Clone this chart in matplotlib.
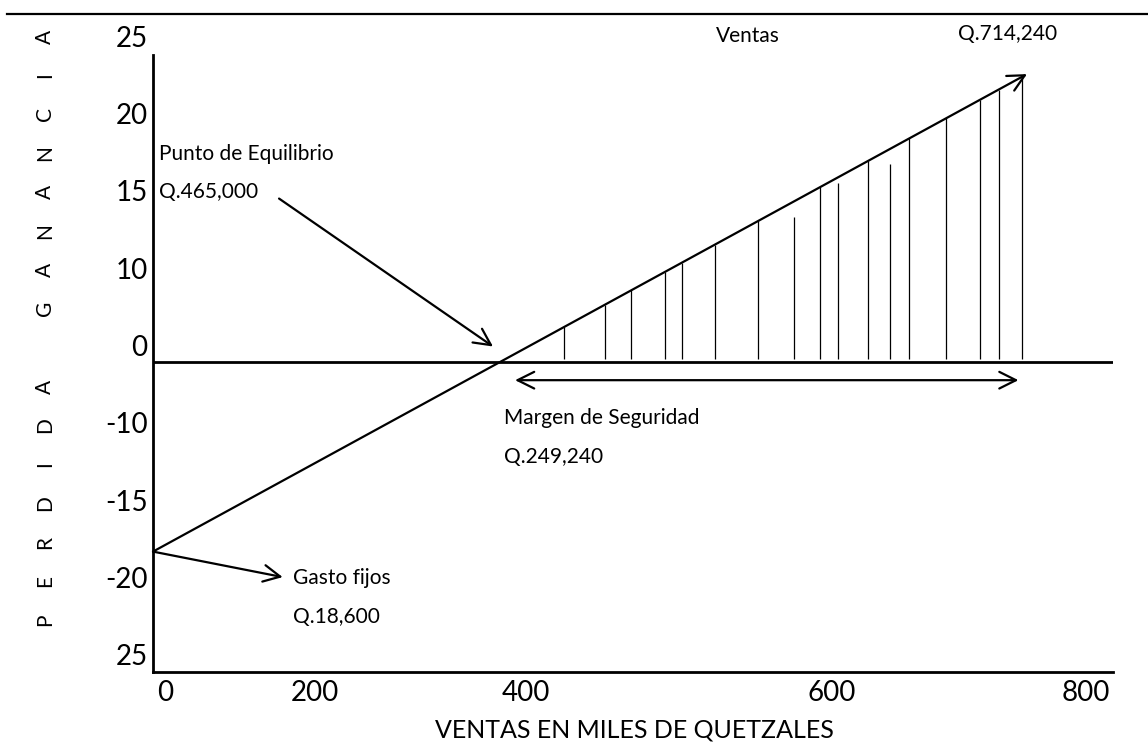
import numpy as np
import matplotlib
matplotlib.use('Agg')
import matplotlib.pyplot as plt
from matplotlib.lines import Line2D

plt.rcParams['font.family'] = ['Lato', 'DejaVu Sans']

# valores (miles de quetzales)
gasto_fijo = 18.6
ventas = 714.24
alto_ventas = 28.2          # altura de la recta en el punto de ventas
x_ticks = [0, 200, 400, 600, 800]
y_ticks = ['25', '20', '15', '10', '0', '-10', '-15', '-20', '25']
rayas_x = [336, 369, 391, 418, 432, 459, 494, 524, 545, 560, 584, 602, 618, 648, 676, 691, 710]
rayas_alto = [1, 1, 1, 1, 1, 1, 1, 0.9, 1, 0.97, 1, 0.93, 1, 1, 1, 1, 1]
letras_eje_y = 'PERDIDA GANANCIA'

# posiciones de las etiquetas (el dibujo original no esta a escala)
xtick_pos = [10, 132, 305, 555, 762]
ytick_pos = np.linspace(31.9, -28.7, len(y_ticks))

pendiente = (alto_ventas + gasto_fijo) / ventas
equilibrio = gasto_fijo / pendiente

fig = plt.figure(figsize=(11.48, 7.45), dpi=100)
ax = fig.add_axes([153/1148, 73/745, 960/1148, 652/745])
ax.set_xlim(0, 784.5)
ax.set_ylim(-30.4, 33.5)

for s in ['top', 'right']:
    ax.spines[s].set_visible(False)
ax.spines['left'].set_bounds(-30.4, 30.1)
ax.spines['left'].set_linewidth(2)
ax.spines['bottom'].set_linewidth(2)

ax.set_xticks(xtick_pos, [str(v) for v in x_ticks])
ax.set_yticks(ytick_pos, y_ticks)
ax.tick_params(axis='x', length=0, pad=6, labelsize=20)
ax.tick_params(axis='y', length=0, pad=4, labelsize=20)

ax.set_xlabel('VENTAS EN MILES DE QUETZALES', fontsize=18, va='center')
ax.xaxis.set_label_coords(0.5016, -0.089)

# linea cero
ax.axhline(0, color='black', lw=2)

# recta de resultados
y_fin = -gasto_fijo + pendiente * ventas
ax.annotate('', xy=(ventas, y_fin), xytext=(0, -gasto_fijo),
            arrowprops=dict(arrowstyle='->', lw=1.6, color='black',
                            mutation_scale=30, shrinkA=0, shrinkB=0))

# rayado de la zona de ganancia
rx = np.array(rayas_x, dtype=float)
ry = (-gasto_fijo + pendiente * rx) * np.array(rayas_alto)
ax.vlines(rx, 0.3, ry, color='black', lw=0.9)

# margen de seguridad
ax.annotate('', xy=(ventas - 7, -1.8), xytext=(equilibrio + 12, -1.8),
            arrowprops=dict(arrowstyle='<->', lw=1.6, color='black',
                            mutation_scale=30, shrinkA=0, shrinkB=0))

# flechas de anotacion
ax.annotate('', xy=(equilibrio - 6, 1.5), xytext=(103, 16.0),
            arrowprops=dict(arrowstyle='->', lw=1.6, color='black',
                            mutation_scale=30, shrinkA=0, shrinkB=0))
ax.annotate('', xy=(106, -21.1), xytext=(0, -gasto_fijo),
            arrowprops=dict(arrowstyle='->', lw=1.6, color='black',
                            mutation_scale=30, shrinkA=0, shrinkB=0))

fs = 15
ax.text(5, 20.4, 'Punto de Equilibrio', fontsize=fs, va='center')
ax.text(5, 16.6, 'Q.465,000', fontsize=fs, va='center')
ax.text(114, -21.2, 'Gasto fijos', fontsize=fs, va='center')
ax.text(114, -25.0, 'Q.18,600', fontsize=fs, va='center')
ax.text(460, 31.9, 'Ventas', fontsize=fs, va='center')
ax.text(658, 32.1, 'Q.714,240', fontsize=fs, va='center')
ax.text(287, -5.5, 'Margen de Seguridad', fontsize=fs, va='center')
ax.text(287, -9.3, 'Q.249,240', fontsize=fs, va='center')

# letras del eje vertical, de abajo hacia arriba
for i, c in enumerate(letras_eje_y):
    fig.text(45/1148, 1 - (620 - i * 38.9)/745, c, rotation=90,
             fontsize=fs, ha='center', va='center')

# linea superior de la pagina
fig.add_artist(Line2D([7/1148, 1], [1 - 14/745, 1 - 14/745], color='black', lw=1.6))

fig.savefig('out.png', dpi=100)
